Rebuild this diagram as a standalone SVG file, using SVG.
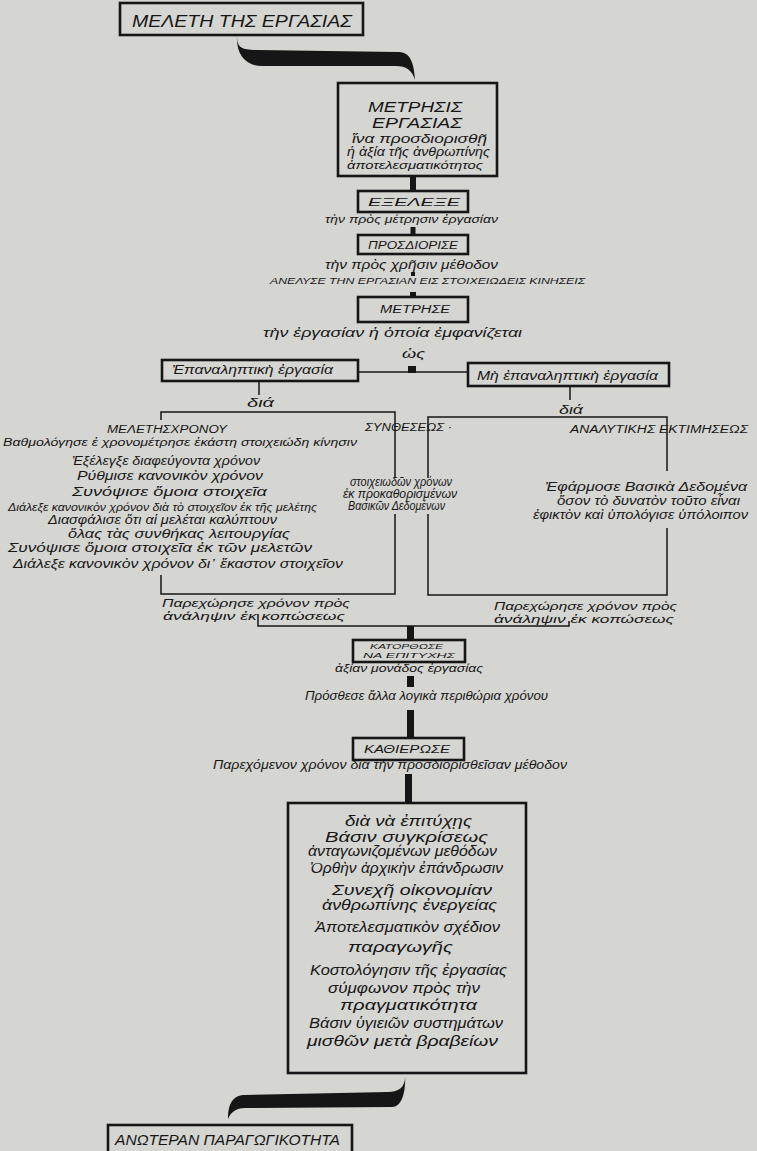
<svg xmlns="http://www.w3.org/2000/svg" width="757" height="1151" viewBox="0 0 757 1151">
<style>
.t{font-family:"Liberation Sans","DejaVu Sans",sans-serif;font-style:italic;fill:#161616}
.box{fill:none;stroke:#161616;stroke-width:2.6}
.ln{fill:none;stroke:#161616;stroke-width:1.5}
.ink{fill:#161616}
</style>
<rect x="0" y="0" width="757" height="1151" fill="#d5d5d2"/>

<g id="connectors">
  <path class="ink" d="M237,36 C237,48 242,50 258,50 L398,52 C410,52 414,62 415,80 C412,70 406,66 396,66 L262,66 C246,66 236,55 237,36 Z"/>
  <rect class="ink" x="410" y="176" width="6" height="15"/>
  <rect class="ink" x="410.5" y="227" width="5" height="8"/>
  <rect class="ink" x="411" y="272" width="4" height="4"/>
  <rect class="ink" x="410" y="292" width="6" height="5"/>
  <line class="ln" x1="358" y1="372" x2="468" y2="372"/>
  <rect class="ink" x="408" y="366" width="8" height="7"/>
  <line class="ln" x1="259" y1="381" x2="259" y2="395"/>
  <line class="ln" x1="570" y1="386" x2="570" y2="400"/>
  <polyline class="ln" points="258,614 258,626 569,626 569,621"/>
  <rect class="ink" x="407" y="626" width="7" height="14"/>
  <rect class="ink" x="407" y="676" width="7" height="11"/>
  <rect class="ink" x="407" y="710" width="7" height="28"/>
  <rect class="ink" x="405" y="774" width="7" height="29"/>
  <path class="ink" d="M405,1074 C406,1086 400,1092 388,1092 L245,1095 C232,1095 228,1105 228,1119 C231,1112 236,1108 245,1108 L392,1107 C402,1107 406,1092 405,1074 Z"/>
</g>

<g id="n-meleti">
  <rect class="box" x="120" y="3" width="243" height="32"/>
  <text class="t" x="132" y="27" font-size="16" textLength="220" lengthAdjust="spacingAndGlyphs">ΜΕΛΕΤΗ ΤΗΣ ΕΡΓΑΣΙΑΣ</text>
</g>

<g id="n-metrisis">
  <rect class="box" x="338" y="83" width="159" height="93" stroke-width="3"/>
  <text class="t" x="368" y="112" font-size="15" textLength="94" lengthAdjust="spacingAndGlyphs">ΜΕΤΡΗΣΙΣ</text>
  <text class="t" x="372" y="128" font-size="15" textLength="90" lengthAdjust="spacingAndGlyphs">ΕΡΓΑΣΙΑΣ</text>
  <text class="t" x="352" y="143" font-size="13" textLength="135" lengthAdjust="spacingAndGlyphs">ἵνα προσδιορισθῇ</text>
  <text class="t" x="347" y="156" font-size="12" textLength="143" lengthAdjust="spacingAndGlyphs">ἡ ἀξία τῆς ἀνθρωπίνης</text>
  <text class="t" x="347" y="169" font-size="11" textLength="136" lengthAdjust="spacingAndGlyphs">ἀποτελεσματικότητος</text>
</g>

<g id="n-exelexe">
  <rect class="box" x="358" y="191" width="110" height="21"/>
  <text class="t" x="368" y="206" font-size="11" textLength="92" lengthAdjust="spacingAndGlyphs">ΕΞΕΛΕΞΕ</text>
  <text class="t" x="325" y="223" font-size="11" textLength="173" lengthAdjust="spacingAndGlyphs">τὴν πρὸς μέτρησιν ἐργασίαν</text>
</g>

<g id="n-prosdiorise">
  <rect class="box" x="358" y="235" width="110" height="19"/>
  <text class="t" x="368" y="249" font-size="10" textLength="90" lengthAdjust="spacingAndGlyphs">ΠΡΟΣΔΙΟΡΙΣΕ</text>
  <text class="t" x="325" y="269" font-size="12" textLength="173" lengthAdjust="spacingAndGlyphs">τὴν πρὸς χρῆσιν μέθοδον</text>
</g>

<g id="n-analyse">
  <text class="t" x="270" y="284" font-size="9" textLength="315" lengthAdjust="spacingAndGlyphs">ΑΝΕΛΥΣΕ ΤΗΝ ΕΡΓΑΣΙΑΝ ΕΙΣ ΣΤΟΙΧΕΙΩΔΕΙΣ ΚΙΝΗΣΕΙΣ</text>
</g>

<g id="n-metrise">
  <rect class="box" x="358" y="297" width="110" height="25"/>
  <text class="t" x="380" y="313" font-size="10" textLength="70" lengthAdjust="spacingAndGlyphs">ΜΕΤΡΗΣΕ</text>
  <text class="t" x="263" y="337" font-size="13" textLength="259" lengthAdjust="spacingAndGlyphs">τὴν ἐργασίαν ἡ ὁποία ἐμφανίζεται</text>
  <text class="t" x="402" y="358" font-size="13" textLength="23" lengthAdjust="spacingAndGlyphs">ὡς</text>
</g>

<g id="n-epanal">
  <rect class="box" x="162" y="360" width="196" height="21" stroke-width="3"/>
  <text class="t" x="172" y="374" font-size="12" textLength="161" lengthAdjust="spacingAndGlyphs">Ἐπαναληπτικὴ ἐργασία</text>
  <text class="t" x="247" y="407" font-size="13" textLength="27" lengthAdjust="spacingAndGlyphs">διά</text>
</g>

<g id="n-mi-epanal">
  <rect class="box" x="468" y="363" width="201" height="23" stroke-width="3"/>
  <text class="t" x="477" y="380" font-size="12" textLength="181" lengthAdjust="spacingAndGlyphs">Μὴ ἐπαναληπτικὴ ἐργασία</text>
  <text class="t" x="559" y="414" font-size="13" textLength="24" lengthAdjust="spacingAndGlyphs">διά</text>
</g>

<g id="n-meleti-xronou">
  <path class="ln" d="M161,420 V412 H395 V478 M395,514 V594 H161 V575"/>
  <text class="t" x="107" y="433" font-size="10" textLength="120" lengthAdjust="spacingAndGlyphs">ΜΕΛΕΤΗΣΧΡΟΝΟΥ</text>
  <text class="t" x="3" y="446" font-size="11" textLength="354" lengthAdjust="spacingAndGlyphs">Βαθμολόγησε ἐ χρονομέτρησε ἑκάστη στοιχειώδη κίνησιν</text>
  <text class="t" x="72" y="465" font-size="13" textLength="188" lengthAdjust="spacingAndGlyphs">Ἐξέλεγξε διαφεύγοντα χρόνον</text>
  <text class="t" x="77" y="480" font-size="13" textLength="186" lengthAdjust="spacingAndGlyphs">Ρύθμισε κανονικὸν χρόνον</text>
  <text class="t" x="72" y="496" font-size="13" textLength="195" lengthAdjust="spacingAndGlyphs">Συνόψισε ὅμοια στοιχεῖα</text>
  <text class="t" x="8" y="511" font-size="11" textLength="309" lengthAdjust="spacingAndGlyphs">Διάλεξε κανονικὸν χρόνον διὰ τὸ στοιχεῖον ἐκ τῆς μελέτης</text>
  <text class="t" x="48" y="524" font-size="12" textLength="229" lengthAdjust="spacingAndGlyphs">Διασφάλισε ὅτι αἱ μελέται καλύπτουν</text>
  <text class="t" x="68" y="538" font-size="12" textLength="222" lengthAdjust="spacingAndGlyphs">ὅλας τὰς συνθήκας λειτουργίας</text>
  <text class="t" x="8" y="552" font-size="12" textLength="304" lengthAdjust="spacingAndGlyphs">Συνόψισε ὅμοια στοιχεῖα ἐκ τῶν μελετῶν</text>
  <text class="t" x="13" y="568" font-size="12" textLength="330" lengthAdjust="spacingAndGlyphs">Διάλεξε κανονικὸν χρόνον δι᾽ ἕκαστον στοιχεῖον</text>
  <text class="t" x="162" y="607" font-size="10.5" textLength="188" lengthAdjust="spacingAndGlyphs">Παρεχώρησε χρόνον πρὸς</text>
  <text class="t" x="163" y="620" font-size="10.5" textLength="182" lengthAdjust="spacingAndGlyphs">ἀνάληψιν ἐκ κοπώσεως</text>
</g>

<g id="n-syntheseos">
  <text class="t" x="365" y="431" font-size="10" textLength="87" lengthAdjust="spacingAndGlyphs">ΣΥΝΘΕΣΕΩΣ ·</text>
  <text class="t" x="350" y="486" font-size="12" textLength="102" lengthAdjust="spacingAndGlyphs">στοιχειωδῶν χρόνων</text>
  <text class="t" x="343" y="498" font-size="12" textLength="114" lengthAdjust="spacingAndGlyphs">ἐκ προκαθορισμένων</text>
  <text class="t" x="348" y="510" font-size="12" textLength="97" lengthAdjust="spacingAndGlyphs">Βασικῶν Δεδομένων</text>
</g>

<g id="n-analytikis">
  <path class="ln" d="M428,478 V417 H667 V471 M667,528 V595 H428 V514"/>
  <text class="t" x="570" y="433" font-size="10" textLength="178" lengthAdjust="spacingAndGlyphs">ΑΝΑΛΥΤΙΚΗΣ ΕΚΤΙΜΗΣΕΩΣ</text>
  <text class="t" x="545" y="491" font-size="13" textLength="202" lengthAdjust="spacingAndGlyphs">Ἐφάρμοσε Βασικὰ Δεδομένα</text>
  <text class="t" x="557" y="505" font-size="12" textLength="183" lengthAdjust="spacingAndGlyphs">ὅσον τὸ δυνατὸν τοῦτο εἶναι</text>
  <text class="t" x="533" y="519" font-size="12" textLength="215" lengthAdjust="spacingAndGlyphs">ἐφικτὸν καὶ ὑπολόγισε ὑπόλοιπον</text>
  <text class="t" x="494" y="610" font-size="10.5" textLength="183" lengthAdjust="spacingAndGlyphs">Παρεχώρησε χρόνον πρὸς</text>
  <text class="t" x="494" y="623" font-size="10.5" textLength="180" lengthAdjust="spacingAndGlyphs">ἀνάληψιν ἐκ κοπώσεως</text>
</g>

<g id="n-katorthose">
  <rect class="box" x="353" y="640" width="112" height="22"/>
  <text class="t" x="370" y="648.5" font-size="8" textLength="73" lengthAdjust="spacingAndGlyphs">ΚΑΤΟΡΘΩΣΕ</text>
  <text class="t" x="363" y="657.5" font-size="8" textLength="92" lengthAdjust="spacingAndGlyphs">ΝΑ ΕΠΙΤΥΧΗΣ</text>
  <text class="t" x="335" y="672" font-size="11" textLength="148" lengthAdjust="spacingAndGlyphs">ἀξίαν μονάδος ἐργασίας</text>
</g>

<g id="n-prosthese">
  <text class="t" x="305" y="700" font-size="13" textLength="243" lengthAdjust="spacingAndGlyphs">Πρόσθεσε ἄλλα λογικὰ περιθώρια χρόνου</text>
</g>

<g id="n-kathierose">
  <rect class="box" x="353" y="738" width="111" height="22"/>
  <text class="t" x="364" y="753" font-size="10" textLength="86" lengthAdjust="spacingAndGlyphs">ΚΑΘΙΕΡΩΣΕ</text>
  <text class="t" x="213" y="769" font-size="12" textLength="354" lengthAdjust="spacingAndGlyphs">Παρεχόμενον χρόνον διὰ τὴν προσδιορισθεῖσαν μέθοδον</text>
</g>

<g id="n-goals">
  <rect class="box" x="288" y="803" width="238" height="270" stroke-width="2.8"/>
  <text class="t" x="345" y="826" font-size="14" textLength="127" lengthAdjust="spacingAndGlyphs">διὰ νὰ ἐπιτύχῃς</text>
  <text class="t" x="325" y="842" font-size="14" textLength="163" lengthAdjust="spacingAndGlyphs">Βάσιν συγκρίσεως</text>
  <text class="t" x="308" y="856" font-size="14" textLength="189" lengthAdjust="spacingAndGlyphs">ἀνταγωνιζομένων μεθόδων</text>
  <text class="t" x="310" y="873" font-size="14" textLength="193" lengthAdjust="spacingAndGlyphs">Ὀρθὴν ἀρχικὴν ἐπάνδρωσιν</text>
  <text class="t" x="332" y="895" font-size="14" textLength="160" lengthAdjust="spacingAndGlyphs">Συνεχῆ οἰκονομίαν</text>
  <text class="t" x="322" y="910" font-size="14" textLength="175" lengthAdjust="spacingAndGlyphs">ἀνθρωπίνης ἐνεργείας</text>
  <text class="t" x="315" y="932" font-size="14" textLength="185" lengthAdjust="spacingAndGlyphs">Ἀποτελεσματικὸν σχέδιον</text>
  <text class="t" x="348" y="952" font-size="14" textLength="105" lengthAdjust="spacingAndGlyphs">παραγωγῆς</text>
  <text class="t" x="310" y="975" font-size="14" textLength="197" lengthAdjust="spacingAndGlyphs">Κοστολόγησιν τῆς ἐργασίας</text>
  <text class="t" x="328" y="993" font-size="14" textLength="152" lengthAdjust="spacingAndGlyphs">σύμφωνον πρὸς τὴν</text>
  <text class="t" x="340" y="1010" font-size="14" textLength="137" lengthAdjust="spacingAndGlyphs">πραγματικότητα</text>
  <text class="t" x="309" y="1028" font-size="14" textLength="194" lengthAdjust="spacingAndGlyphs">Βάσιν ὑγιειῶν συστημάτων</text>
  <text class="t" x="307" y="1046" font-size="14" textLength="191" lengthAdjust="spacingAndGlyphs">μισθῶν μετὰ βραβείων</text>
</g>

<g id="n-anoteran">
  <rect class="box" x="108" y="1125" width="244" height="34"/>
  <text class="t" x="115" y="1145" font-size="14" textLength="225" lengthAdjust="spacingAndGlyphs">ΑΝΩΤΕΡΑΝ ΠΑΡΑΓΩΓΙΚΟΤΗΤΑ</text>
</g>
</svg>
